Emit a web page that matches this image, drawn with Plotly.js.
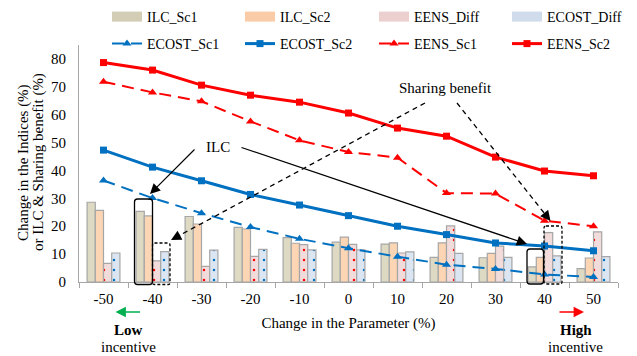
<!DOCTYPE html>
<html><head><meta charset="utf-8">
<script src="https://cdn.plot.ly/plotly-3.0.1.min.js"></script>
<style>html,body{margin:0;padding:0;background:#fff}</style>
</head><body><div id="chart" style="width:637px;height:356px"></div>
<script>
// ---- data ----
const categories = ['-50','-40','-30','-20','-10','0','10','20','30','40','50'];
const ilcSc1   = [28.6,25.3,23.5,19.6,15.9,14.3,13.6,8.8,8.7,5.4,4.8];
const ilcSc2   = [25.7,23.7,20.8,19.0,13.9,16.1,14.0,14.0,10.3,8.8,8.6];
const eensDiff = [6.7,7.6,5.6,9.2,13.4,13.5,10.4,20.1,12.9,17.7,18.0];
const ecostDiff= [10.4,10.9,11.4,11.7,11.5,11.5,10.8,10.3,8.8,9.4,9.1];
const ecostSc1 = [36.4,30.1,24.7,19.7,15.5,12.1,9.1,6.2,4.7,2.7,1.8];
const ecostSc2 = [47.3,41.2,36.3,31.4,27.6,23.8,20.0,17.0,14.0,12.9,11.2];
const eensSc1  = [71.8,68.0,64.8,57.6,50.8,46.6,44.6,31.9,31.7,22.0,20.0];
const eensSc2  = [78.7,76.0,70.6,67.0,64.5,60.6,55.2,52.3,44.8,39.8,38.1];
const yTicks   = [0,10,20,30,40,50,60,70,80];
const yTitleLines = ['Change in the Indices (%)','or ILC & Sharing benefit (%)'];

// ---- geometry helpers (page pixels -> paper) ----
const W=637,H=356,L=79,R=19,T=45,B=74;
const pw=W-L-R, ph=H-T-B;
const px = X => (X-L)/pw;
const py = Y => (H-B-Y)/ph;

const FAM = 'Liberation Serif';
const F = (s)=>({family:FAM,size:s||15,color:'#000'});
const BLUE='#0070c0', RED='#ff0000';
const barLine = {color:'#a6a6a6',width:1.2};

const traces = [
  {type:'bar',x:categories,y:ilcSc1,name:'ILC_Sc1',showlegend:false,marker:{color:'#ddd9c3',line:barLine}},
  {type:'bar',x:categories,y:ilcSc2,name:'ILC_Sc2',showlegend:false,marker:{color:'#fcd5b4',line:barLine}},
  {type:'bar',x:categories,y:eensDiff,name:'EENS_Diff',showlegend:false,marker:{color:'#f2dcdb',line:barLine,
     pattern:{shape:'.',fgcolor:RED,bgcolor:'#f2dcdb',size:10,solidity:0.05,fillmode:'replace'}}},
  {type:'bar',x:categories,y:ecostDiff,name:'ECOST_Diff',showlegend:false,marker:{color:'#dce6f2',line:barLine,
     pattern:{shape:'.',fgcolor:BLUE,bgcolor:'#dce6f2',size:10,solidity:0.05,fillmode:'replace'}}},
  // legend proxies for the bars
  {type:'scatter',mode:'lines',x:[null],y:[null],name:'ILC_Sc1',legend:'legend',line:{color:'#d2cdb4',width:10},hoverinfo:'skip'},
  {type:'scatter',mode:'lines',x:[null],y:[null],name:'ILC_Sc2',legend:'legend2',line:{color:'#f9cba6',width:10},hoverinfo:'skip'},
  {type:'scatter',mode:'lines',x:[null],y:[null],name:'EENS_Diff',legend:'legend3',line:{color:'#ecd0cf',width:10},hoverinfo:'skip'},
  {type:'scatter',mode:'lines',x:[null],y:[null],name:'ECOST_Diff',legend:'legend4',line:{color:'#d0dcec',width:10},hoverinfo:'skip'},
  // lines
  {type:'scatter',mode:'lines+markers',x:categories,y:ecostSc1,name:'ECOST_Sc1',legend:'legend5',
     line:{color:BLUE,width:2,dash:'12px,7px'},marker:{symbol:'triangle-up',size:8,color:BLUE}},
  {type:'scatter',mode:'lines+markers',x:categories,y:ecostSc2,name:'ECOST_Sc2',legend:'legend6',
     line:{color:BLUE,width:3},marker:{symbol:'square',size:7,color:BLUE}},
  {type:'scatter',mode:'lines+markers',x:categories,y:eensSc1,name:'EENS_Sc1',legend:'legend7',
     line:{color:RED,width:2,dash:'12px,7px'},marker:{symbol:'triangle-up',size:8,color:RED}},
  {type:'scatter',mode:'lines+markers',x:categories,y:eensSc2,name:'EENS_Sc2',legend:'legend8',
     line:{color:RED,width:3},marker:{symbol:'square',size:7,color:RED}}
];

function roundRect(x0,y0,x1,y1,r){
  const X=v=>px(v).toFixed(5), Y=v=>py(v).toFixed(5);
  return `M${X(x0+r)},${Y(y0)} L${X(x1-r)},${Y(y0)} Q${X(x1)},${Y(y0)} ${X(x1)},${Y(y0+r)} `+
         `L${X(x1)},${Y(y1-r)} Q${X(x1)},${Y(y1)} ${X(x1-r)},${Y(y1)} L${X(x0+r)},${Y(y1)} `+
         `Q${X(x0)},${Y(y1)} ${X(x0)},${Y(y1-r)} L${X(x0)},${Y(y0+r)} Q${X(x0)},${Y(y0)} ${X(x0+r)},${Y(y0)} Z`;
}
const shapes = [
  {type:'path',xref:'paper',yref:'paper',path:roundRect(134.5,199,152.5,284.5,3),line:{color:'#000',width:1.3}},
  {type:'path',xref:'paper',yref:'paper',path:roundRect(527,249,543.5,284,3),line:{color:'#000',width:1.3}},
  {type:'path',xref:'paper',yref:'paper',path:roundRect(152.5,243,170,284.5,2),line:{color:'#000',width:1.3,dash:'3px,2px'}},
  {type:'path',xref:'paper',yref:'paper',path:roundRect(544,226,562,284,2),line:{color:'#000',width:1.3,dash:'3px,2px'}}
];
const annotations = [];
function arrow(tail,head,dashed,color,w,size){
  color=color||'#000'; w=w||1.2; size=size||1.7;
  if(!dashed){
    annotations.push({xref:'paper',yref:'paper',x:px(head[0]),y:py(head[1]),ax:tail[0]-head[0],ay:tail[1]-head[1],
      text:'',showarrow:true,arrowhead:2,arrowsize:size,arrowwidth:w,arrowcolor:color,standoff:0,startstandoff:0});
  } else {
    const dx=head[0]-tail[0], dy=head[1]-tail[1], len=Math.hypot(dx,dy), ux=dx/len, uy=dy/len;
    const e=[head[0]-ux*8, head[1]-uy*8];
    shapes.push({type:'line',xref:'paper',yref:'paper',x0:px(tail[0]),y0:py(tail[1]),x1:px(e[0]),y1:py(e[1]),
      line:{color:color,width:1.3,dash:'5px,4px'}});
    annotations.push({xref:'paper',yref:'paper',x:px(head[0]),y:py(head[1]),ax:-ux*12,ay:-uy*12,
      text:'',showarrow:true,arrowhead:2,arrowsize:size,arrowwidth:w,arrowcolor:color,standoff:0,startstandoff:0});
  }
}
arrow([196,148],[150,194],false);
arrow([240,147],[527,244],false);
arrow([425,103],[171,240],true);
arrow([457,103],[550.5,221],true);
arrow([141.5,312],[115.5,312],false,'#00b050',1.6,1.3);
arrow([558,312],[584,312],false,RED,1.6,1.3);

const txt=(t,X,Y,ang)=>({xref:'paper',yref:'paper',x:px(X),y:py(Y),text:t,showarrow:false,
   xanchor:'center',yanchor:'middle',textangle:ang||0,font:F(15)});
annotations.push(txt(yTitleLines[0],23,162,-90));
annotations.push(txt(yTitleLines[1],38,162,-90));
annotations.push(txt('ILC',218,147));
annotations.push(txt('Sharing benefit',445,88));
annotations.push(txt('<b>Low</b>',128.5,330));
annotations.push(txt('incentive',128.5,347));
annotations.push(txt('<b>High</b>',575.5,330));
annotations.push(txt('incentive',575.5,347));

const legX = [107,240,374,507], legY = [17,44];
const leg = (i,r)=>({orientation:'v',xref:'container',yref:'container',x:legX[i]/W,y:1-legY[r]/H,
  xanchor:'left',yanchor:'middle',font:F(14),bgcolor:'rgba(0,0,0,0)',borderwidth:0});

const layout = {
  width:W,height:H,margin:{l:L,r:R,t:T,b:B,pad:0,autoexpand:false},
  paper_bgcolor:'#fff',plot_bgcolor:'#fff',font:F(15),
  barmode:'group',bargap:0.33,bargroupgap:0,
  showlegend:true,
  xaxis:{type:'category',categoryorder:'array',categoryarray:categories,range:[-0.5,10.5],
    tickson:'boundaries',ticks:'outside',ticklen:5,tickcolor:'#a6a6a6',tickwidth:1,
    showline:true,linecolor:'#a6a6a6',linewidth:1,showgrid:false,zeroline:false,
    ticklabelstandoff:3,tickfont:F(15),automargin:false,
    title:{text:'Change in the Parameter (%)',font:F(15),standoff:11}},
  yaxis:{range:[0,85],tickvals:yTicks,ticks:'',showline:true,linecolor:'#a6a6a6',linewidth:1,
    showgrid:false,zeroline:false,ticklabelstandoff:9,tickfont:F(15),automargin:false},
  legend:leg(0,0),legend2:leg(1,0),legend3:leg(2,0),legend4:leg(3,0),
  legend5:leg(0,1),legend6:leg(1,1),legend7:leg(2,1),legend8:leg(3,1),
  shapes:shapes,annotations:annotations
};
Plotly.newPlot('chart',traces,layout,{displayModeBar:false,staticPlot:true});
</script></body></html>
